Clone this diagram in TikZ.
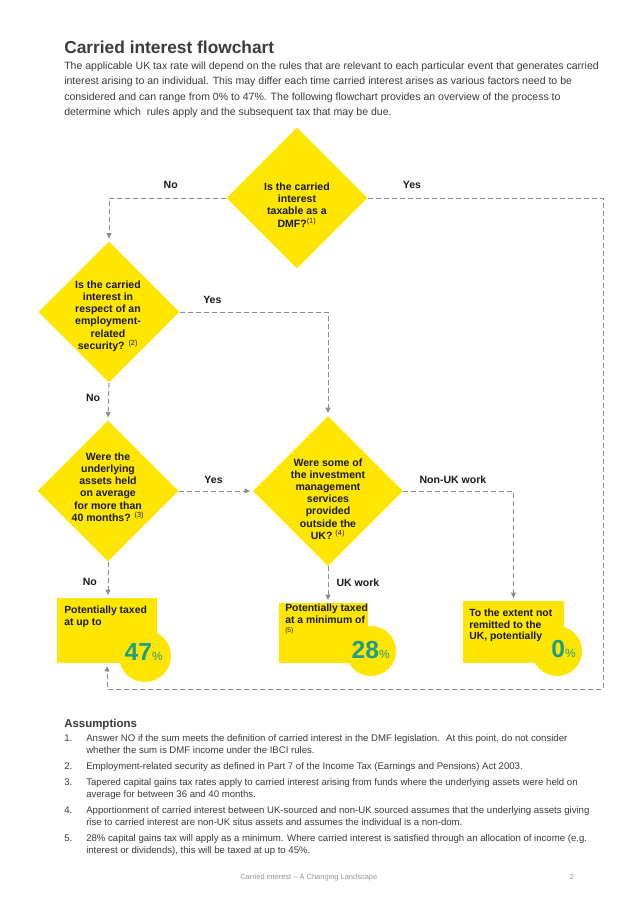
\documentclass[tikz,border=0pt]{standalone}
\usepackage{fontspec}
\setmainfont{Liberation Sans}
\usetikzlibrary{shapes.geometric,arrows.meta}

\definecolor{eyyellow}{RGB}{255,230,0}
\definecolor{flowgray}{RGB}{140,140,140}
\definecolor{qblack}{RGB}{26,26,26}
\definecolor{bodygray}{RGB}{58,58,58}
\definecolor{titlegray}{RGB}{60,60,60}
\definecolor{rateteal}{RGB}{30,156,136}
\definecolor{footgray}{RGB}{150,150,150}

\newcommand{\refmark}[1]{\textsuperscript{\mdseries(#1)}}
\newcommand{\pct}{{\mdseries\fontsize{9}{9}\selectfont\%}}

\begin{document}
\begin{tikzpicture}[yscale=-1, x=0.75pt, y=0.75pt,
    flow/.style={draw=flowgray, line width=0.75pt, dash pattern=on 3.6pt off 2.4pt,
      shorten >=2pt, -{Triangle[length=4pt,width=3.6pt]}},
    question/.style={diamond, fill=eyyellow, aspect=1, inner sep=0pt, minimum size=105.75pt},
    qtext/.style={align=center, inner sep=0pt, text=qblack, font=\bfseries\fontsize{7.9}{9.15}\selectfont},
    answer/.style={text=qblack, inner sep=1pt, font=\bfseries\fontsize{7.9}{9}\selectfont},
    outcome/.style={fill=eyyellow, inner sep=0pt},
    blob/.style={circle, fill=eyyellow, inner sep=0pt},
    otext/.style={anchor=north west, align=left, inner sep=0pt, text=qblack, font=\bfseries\fontsize{7.8}{8.6}\selectfont},
    rate/.style={anchor=base east, inner sep=0pt, text=rateteal, font=\bfseries\fontsize{18.5}{20}\selectfont},
    body/.style={anchor=north west, align=left, inner sep=0pt, text=bodygray, font=\fontsize{7.9}{11.3}\selectfont},
    assumption/.style={anchor=north west, align=left, inner sep=0pt, text=bodygray, font=\fontsize{7.2}{9}\selectfont}
  ]

        \fill[white] (0,0) rectangle (638,903);
        \useasboundingbox (0,0) rectangle (638,903);

        % heading
        \node[anchor=base west, inner sep=0pt, text=titlegray, font=\bfseries\fontsize{13}{15}\selectfont]
          (title) at (64,53) {Carried interest flowchart};
        \node[body] (intro) at (64,62) {The applicable UK tax rate will depend on the rules that are relevant to each particular event that generates carried\\
          interest arising to an individual. This may differ each time carried interest arises as various factors need to be\\
          considered and can range from 0\% to 47\%. The following flowchart provides an overview of the process to\\
          determine which \ rules apply and the subsequent tax that may be due.};

        % questions
        \node[question] (dmf) at (297,198) {};
        \node[question] (ers) at (109,312) {};
        \node[question] (held) at (108,491) {};
        \node[question, minimum size=112.5pt] (mgmt) at (328,491) {};
        \node[qtext] (dmftext) at (297,205) {Is the carried\\interest\\taxable as a\\DMF?\refmark{1}};
        \node[qtext] (erstext) at (108,316) {Is the carried\\interest in\\respect of an\\employment-\\related\\security? \refmark{2}};
        \node[qtext] (heldtext) at (108,487) {Were the\\underlying\\assets held\\on average\\for more than\\40 months? \refmark{3}};
        \node[qtext] (mgmttext) at (328,499) {Were some of\\the investment\\management\\services\\provided\\outside the\\UK? \refmark{4}};

        % outcomes
        \node[blob, minimum size=39pt] (taxtopc) at (145,656) {};
        \node[blob, minimum size=37.5pt] (taxminc) at (371,651) {};
        \node[blob, minimum size=37.5pt] (taxnilc) at (557,651) {};
        \node[outcome, minimum width=75pt, minimum height=48.75pt] (taxtop) at (107,630.5) {};
        \node[outcome, minimum width=66.75pt, minimum height=45pt] (taxmin) at (323.5,633) {};
        \node[outcome, minimum width=75.75pt, minimum height=46.5pt] (taxnil) at (513.5,632) {};
        \node[otext] (taxtoptext) at (64,606) {Potentially taxed\\at up to};
        \node[otext] (taxmintext) at (285,604) {Potentially taxed\\at a minimum of\\[-1.5pt]{\mdseries\fontsize{5}{5}\selectfont(5)}};
        \node[otext] (taxniltext) at (469,609) {To the extent not\\remitted to the\\UK, potentially};
        \node[rate] (taxtoprate) at (163,660) {47\pct};
        \node[rate] (taxminrate) at (390,658) {28\pct};
        \node[rate] (taxnilrate) at (576,657) {0\pct};

        % connectors
        \coordinate (loop) at (603,689);
        \draw[flow] (dmf.west) -| node[answer, above=6pt, pos=.237] {No} (ers.north);
        \draw[flow] (dmf.east) -| node[answer, above=6pt, pos=.094] {Yes} (loop) -| (taxtop.south);
        \draw[flow] (ers.east) -| node[answer, above=5pt, pos=.11] {Yes} (mgmt.north);
        \draw[flow] (ers.south) -- node[answer, left=5pt, pos=.4] {No} (held.north);
        \draw[flow] (held.east) -- node[answer, above=4.5pt, pos=.47] {Yes} (mgmt.west);
        \draw[flow] (held.south) -- node[answer, left=7pt, pos=.55] {No} (held.south |- taxtop.north);
        \draw[flow] (mgmt.south) -- node[answer, right=5pt, pos=.45] {UK work} (mgmt.south |- taxmin.north);
        \draw[flow] (mgmt.east) -| node[answer, above=4.5pt, pos=.225] {Non-UK work} (taxnil.north);

        % assumptions
        \node[anchor=base west, inner sep=0pt, text=bodygray, font=\bfseries\fontsize{8.6}{10}\selectfont]
          (assume) at (64,727) {Assumptions};
        \foreach \n/\y in {1/735,2/763,3/779,4/807,5/835} {
          \node[assumption] (num\n) at (64,\y) {\n.};
        }
        \node[assumption] (item1) at (86,734) {Answer NO if the sum meets the definition of carried interest in the DMF legislation. \ At this point, do not consider\\whether the sum is DMF income under the IBCI rules.};
        \node[assumption] (item2) at (86,762) {Employment-related security as defined in Part 7 of the Income Tax (Earnings and Pensions) Act 2003.};
        \node[assumption] (item3) at (86,778) {Tapered capital gains tax rates apply to carried interest arising from funds where the underlying assets were held on\\average for between 36 and 40 months.};
        \node[assumption] (item4) at (86,806) {Apportionment of carried interest between UK-sourced and non-UK sourced assumes that the underlying assets giving\\rise to carried interest are non-UK situs assets and assumes the individual is a non-dom.};
        \node[assumption] (item5) at (86,834) {28\% capital gains tax will apply as a minimum. Where carried interest is satisfied through an allocation of income (e.g.\\interest or dividends), this will be taxed at up to 45\%.};

        % footer
        \node[anchor=base west, inner sep=0pt, text=footgray, font=\fontsize{5.6}{7}\selectfont]
          (foot) at (240,879) {Carried interest \textendash{} A Changing Landscape};
        \node[anchor=base, inner sep=0pt, text=footgray, font=\fontsize{5.6}{7}\selectfont]
          (page) at (572,879) {2};
    \end{tikzpicture}
\end{document}
